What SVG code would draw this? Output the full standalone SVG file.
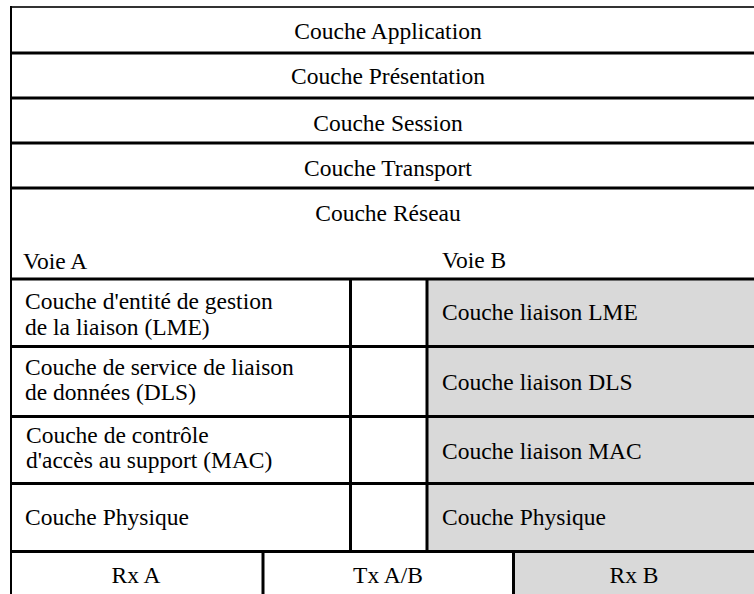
<svg xmlns="http://www.w3.org/2000/svg" width="754" height="594" viewBox="0 0 754 594" font-family="Liberation Serif, DejaVu Serif, serif">
<style>
  text { font-family: 'Liberation Serif', 'Tinos', 'Times New Roman', 'DejaVu Serif', serif; font-size: 23.5px; fill: #000; }
  .c { text-anchor: middle; }
  .grid { stroke: #000; stroke-width: 3; fill: none; }
  .gray { fill: #d9d9d9; }
  .white { fill: #fff; }
</style>
<rect x="0" y="0" width="754" height="594" fill="#fff"/>
<g id="application"><rect class="white" x="11" y="7" width="743" height="46"/><text class="c" x="388" y="39">Couche Application</text></g>
<g id="presentation"><rect class="white" x="11" y="53" width="743" height="45"/><text class="c" x="388" y="84">Couche Présentation</text></g>
<g id="session"><rect class="white" x="11" y="98" width="743" height="45"/><text class="c" x="388" y="131">Couche Session</text></g>
<g id="transport"><rect class="white" x="11" y="143" width="743" height="45"/><text class="c" x="388" y="176">Couche Transport</text></g>
<g id="reseau"><rect class="white" x="11" y="188" width="743" height="91"/><text class="c" x="388" y="221">Couche Réseau</text><text x="23" y="269">Voie A</text><text x="442" y="268">Voie B</text></g>
<g id="lme-a"><text x="25" y="309">Couche d'entité de gestion</text><text x="25" y="335">de la liaison (LME)</text></g>
<g id="dls-a"><text x="25" y="375">Couche de service de liaison</text><text x="25" y="400">de données (DLS)</text></g>
<g id="mac-a"><text x="26" y="443">Couche de contrôle</text><text x="26" y="468">d'accès au support (MAC)</text></g>
<g id="phy-a"><text x="25" y="525">Couche Physique</text></g>
<g id="lme-b"><rect class="gray" x="427" y="279" width="327" height="67"/><text x="442" y="320">Couche liaison LME</text></g>
<g id="dls-b"><rect class="gray" x="427" y="346" width="327" height="71"/><text x="442" y="390">Couche liaison DLS</text></g>
<g id="mac-b"><rect class="gray" x="427" y="417" width="327" height="67"/><text x="442" y="459">Couche liaison MAC</text></g>
<g id="phy-b"><rect class="gray" x="427" y="484" width="327" height="67"/><text x="442" y="525">Couche Physique</text></g>
<g id="rx-a"><text class="c" x="136" y="583">Rx A</text></g>
<g id="tx-ab"><text class="c" x="388" y="583">Tx A/B</text></g>
<g id="rx-b"><rect class="gray" x="514" y="551" width="240" height="43"/><text class="c" x="634" y="583">Rx B</text></g>
<g id="connectors">
  <line x1="10" y1="7" x2="754" y2="7" stroke="#333" stroke-width="2"/>
  <line x1="11" y1="6" x2="11" y2="594" stroke="#000" stroke-width="2"/>
  <path class="grid" d="M11 53H754M11 98H754M11 143H754M11 188H754M11 279H754M11 346.5H754M11 416.5H754M11 483.5H754M11 551.5H754"/>
  <path class="grid" d="M350.5 279V551.5M427 279V551.5M263 551.5V594M513.5 551.5V594"/>
</g>
</svg>
